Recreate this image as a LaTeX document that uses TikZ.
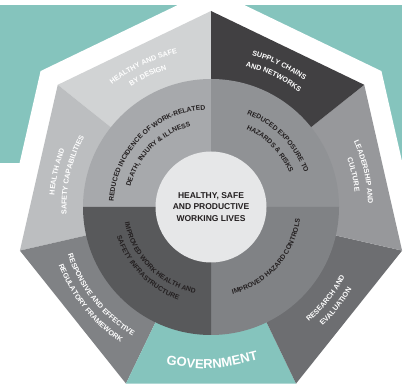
\documentclass[tikz,border=0pt]{standalone}
\usepackage{fontspec}
\setmainfont{Liberation Sans}
\usetikzlibrary{calc,decorations.text}

\definecolor{tealc}{HTML}{85C4BD}
\definecolor{designc}{HTML}{D1D3D4}
\definecolor{capc}{HTML}{BCBEC0}
\definecolor{respc}{HTML}{808285}
\definecolor{researchc}{HTML}{6D6E71}
\definecolor{leadc}{HTML}{97989B}
\definecolor{supplyc}{HTML}{414042}
\definecolor{ringTL}{HTML}{A7A9AC}
\definecolor{ringTR}{HTML}{909295}
\definecolor{ringBL}{HTML}{58595B}
\definecolor{ringBR}{HTML}{808285}
\definecolor{hubc}{HTML}{E6E7E8}
\definecolor{txtdark}{HTML}{231F20}

\newcommand\fRing{\fontsize{6.8}{8}\selectfont\bfseries}
\newcommand\fOut{\fontsize{7.2}{8}\selectfont\bfseries}

% text along an arc, tops outward (clockwise path)
\newcommand\ArcOut[4]{%
  \path[decorate,decoration={text along path,text align=center,text color=#3,text={#4}}]
    ($(C)+(#1+60:#2)$) arc[start angle=#1+60,end angle=#1-60,radius=#2];}
% text along an arc, tops inward (counterclockwise path)
\newcommand\ArcIn[4]{%
  \path[decorate,decoration={text along path,text align=center,text color=#3,text={#4}}]
    ($(C)+(#1-60:#2)$) arc[start angle=#1-60,end angle=#1+60,radius=#2];}

\begin{document}
\begin{tikzpicture}[x=1pt,y=1pt]
\useasboundingbox (0,0) rectangle (406,390);
\coordinate (C) at (211,183);

% teal band
\fill[tealc] (0,227) rectangle (402,385);

% vertices
\foreach \k in {0,...,6}{
  \coordinate (V\k) at ($(C)+(90+\k*360/7:196)$);
  \coordinate (W\k) at ($(C)+(90+\k*360/7:218)$);
}

% white border heptagon
\fill[white] (W0) -- (W1) -- (W2) -- (W3) -- (W4) -- (W5) -- (W6) -- cycle;

% outer segments
\fill[designc]   (C) -- (V0) -- (V1) -- cycle;
\fill[capc]      (C) -- (V1) -- (V2) -- cycle;
\fill[respc]     (C) -- (V2) -- (V3) -- cycle;
\fill[tealc]     (C) -- (V3) -- (V4) -- cycle;
\fill[researchc] (C) -- (V4) -- (V5) -- cycle;
\fill[leadc]     (C) -- (V5) -- (V6) -- cycle;
\fill[supplyc]   (C) -- (V6) -- (V0) -- cycle;

% ring quadrants
\fill[ringTL] (C) -- ($(C)+(180:128)$) arc[start angle=180,end angle=90,radius=128] -- cycle;
\fill[ringTR] (C) -- ($(C)+(90:128)$) arc[start angle=90,end angle=0,radius=128] -- cycle;
\fill[ringBR] (C) -- ($(C)+(0:128)$) arc[start angle=0,end angle=-90,radius=128] -- cycle;
\fill[ringBL] (C) -- ($(C)+(270:128)$) arc[start angle=270,end angle=180,radius=128] -- cycle;

% hub
\node[circle,fill=hubc,minimum size=111pt,inner sep=0pt,align=center,
      text=txtdark,font=\fontsize{8.5}{11.5}\selectfont\bfseries] (hub) at (C)
  {HEALTHY, SAFE\\AND PRODUCTIVE\\WORKING LIVES};

% ring texts
\ArcOut{135}{97.5}{txtdark}{|\fRing|REDUCED INCIDENCE OF WORK-RELATED}
\ArcOut{135}{83}{txtdark}{|\fRing|DEATH, INJURY {\&} ILLNESS}
\ArcOut{44.5}{99.5}{txtdark}{|\fRing|REDUCED EXPOSURE TO}
\ArcOut{44.5}{85.5}{txtdark}{|\fRing|HAZARDS {\&} RISKS}
\ArcIn{225}{87.5}{txtdark}{|\fRing|IMPROVED WORK HEALTH AND}
\ArcIn{224}{98.5}{txtdark}{|\fRing|SAFETY INFRASTRUCTURE}
\ArcIn{318}{90}{txtdark}{|\fRing|IMPROVED HAZARD CONTROLS}

% outer texts
\ArcOut{115.71}{157}{white}{|\fOut|HEALTHY AND SAFE}
\ArcOut{115.71}{144.5}{white}{|\fOut|BY DESIGN}
\ArcOut{64.29}{157}{white}{|\fOut|SUPPLY CHAINS}
\ArcOut{64.29}{144.5}{white}{|\fOut|AND NETWORKS}
\ArcOut{12.86}{157}{white}{|\fOut|LEADERSHIP AND}
\ArcOut{12.86}{144.5}{white}{|\fOut|CULTURE}
\ArcOut{167.14}{157}{white}{|\fOut|HEALTH AND}
\ArcOut{167.14}{144.5}{white}{|\fOut|SAFETY CAPABILITIES}
\ArcIn{321.43}{151}{white}{|\fOut|RESEARCH AND}
\ArcIn{321.43}{163}{white}{|\fOut|EVALUATION}
\ArcIn{218.57}{151}{white}{|\fOut|RESPONSIVE AND EFFECTIVE}
\ArcIn{218.57}{163}{white}{|\fOut|REGULATORY FRAMEWORK}

% government label
\coordinate (g1) at (147,29.2);
\coordinate (g2) at (212,18.1);
\coordinate (g3) at (277,35.3);
\path[decorate,decoration={text along path,text align=center,text color=white,
  text={|\fontsize{13}{14}\selectfont\bfseries|GOVERNMENT}}]
  (g1) .. controls (g2) .. (g3);
\end{tikzpicture}
\end{document}
